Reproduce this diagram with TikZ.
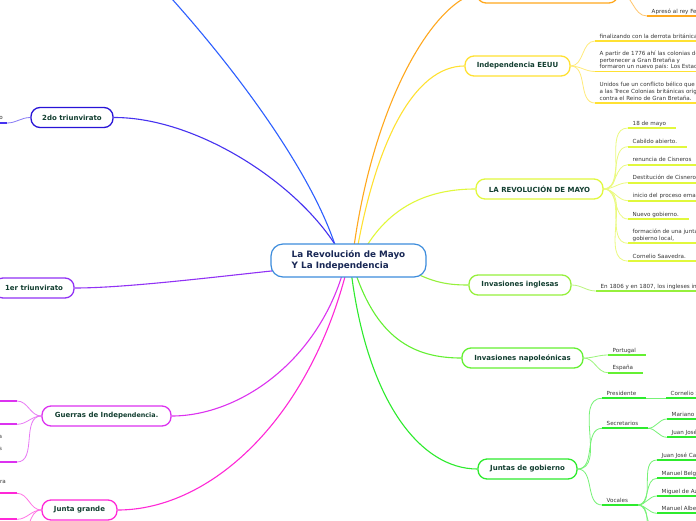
\documentclass[tikz,border=0pt]{standalone}
\usepackage{fontspec}
\setmainfont{DejaVu Sans}
\usetikzlibrary{calc}
\pgfdeclarelayer{bg}
\pgfsetlayers{bg,main}
\definecolor{cBlue}{RGB}{45,95,255}
\definecolor{cCtr}{RGB}{60,140,220}
\definecolor{cNavy}{RGB}{25,40,85}
\definecolor{cTxt}{RGB}{18,62,48}
\definecolor{cLeaf}{RGB}{55,55,55}
\definecolor{cOrange}{RGB}{255,168,30}
\definecolor{cYellow}{RGB}{255,225,50}
\definecolor{cLime}{RGB}{225,248,60}
\definecolor{cLgreen}{RGB}{150,240,60}
\definecolor{cGreenB}{RGB}{100,240,50}
\definecolor{cGreen}{RGB}{45,235,45}
\definecolor{cIndigo}{RGB}{70,50,240}
\definecolor{cIndigoD}{RGB}{40,20,215}
\definecolor{cViolet}{RGB}{145,50,245}
\definecolor{cPurMag}{RGB}{220,50,240}
\definecolor{cMag}{RGB}{255,40,215}
\newcommand{\leafat}[5][]{%
  \node[leaftext,#1] (#2) at (#4) {#5};
  \draw[ul=#3] (#2.south west) -- ([xshift=5pt]#2.south east) coordinate (#2e);}
\begin{document}
\begin{tikzpicture}[x=1pt,y=-1pt,
  ctrbox/.style={draw=cCtr, fill=white, line width=1.2pt, rounded corners=12pt,
    minimum width=155pt, minimum height=33pt, inner sep=0pt, align=left,
    font=\bfseries\fontsize{8.8}{11.5}\selectfont, text=cNavy},
  topic/.style={draw=#1, fill=white, line width=1.3pt, rounded corners=9pt,
    inner sep=0pt, minimum height=20pt, font=\bfseries\fontsize{7}{8.5}\selectfont, text=cTxt},
  leaftext/.style={anchor=south west, inner xsep=4.5pt, inner ysep=1.3pt, text depth=1.3pt,
    font=\fontsize{5.6}{6.7}\selectfont, text=cLeaf},
  frag/.style={anchor=base east, inner sep=0pt, font=\fontsize{5.6}{6.7}\selectfont, text=cLeaf},
  ul/.style={draw=#1, line width=1.8pt},
  mainlink/.style={draw=#1, line width=1.1pt},
  sub/.style={draw=#1!65, line width=0.8pt}]
\useasboundingbox (0,0) rectangle (696,520);

% central topic
\node[ctrbox] (ctr) at (348.5,260.5) {La Revolución de Mayo\\Y La Independencia};

% main topics
\node[topic=cOrange, minimum width=141pt] (orng) at (547.5,-7) {};
\node[topic=cYellow, minimum width=105pt] (ind) at (517.5,66) {Independencia EEUU};
\node[topic=cLime, minimum width=127pt] (rev) at (539.5,189) {LA REVOLUCIÓN DE MAYO};
\node[topic=cLgreen, minimum width=102pt] (ing) at (520,285) {Invasiones inglesas};
\node[topic=cGreenB, minimum width=121pt] (nap) at (522.5,358) {Invasiones napoleónicas};
\node[topic=cGreen, minimum width=99pt] (jun) at (527.5,469) {Juntas de gobierno};
\node[topic=cIndigoD, minimum width=82pt] (tr2) at (72,117.5) {2do triunvirato};
\node[topic=cViolet, minimum width=80pt] (tr1) at (34,288) {1er triunvirato};
\node[topic=cPurMag, minimum width=129pt] (gue) at (106.5,416) {Guerras de Indep{\fontsize{6.4}{8}\selectfont endencia.}};
\node[topic=cMag, minimum width=75pt] (jgr) at (79.5,510) {Junta grande};
\coordinate (blueEnd) at (150,-25);

% leaves - orange
\leafat{o1}{cOrange}{647,16}{Apresó al rey Fernando VII}
% leaves - Independencia EEUU
\leafat{e1}{cYellow}{595,41}{finalizando con la derrota británica}
\leafat[align=left]{e2}{cYellow}{595,71.5}{A partir de 1776 ahí las colonias dejaron de\\pertenecer a Gran Bretaña y\\formaron un nuevo país: Los Estados}
\leafat[align=left]{e3}{cYellow}{595,103}{Unidos fue un conflicto bélico que enfrentó\\a las Trece Colonias británicas originales\\contra el Reino de Gran Bretaña.}
% leaves - Revolucion de mayo
\leafat{r1}{cLime}{628,128}{18 de mayo}
\leafat{r2}{cLime}{628,146.7}{Cabildo abierto.}
\leafat{r3}{cLime}{628,164.7}{renuncia de Cisneros}
\leafat{r4}{cLime}{628,182.7}{Destitución de Cisneros}
\leafat{r5}{cLime}{628,200.7}{inicio del proceso emancipador}
\leafat{r6}{cLime}{628,219}{Nuevo gobierno.}
\leafat[align=left]{r7}{cLime}{628,243.3}{formación de una junta de\\ gobierno local,}
\leafat{r8}{cLime}{628,261}{Cornelio Saavedra.}
% leaves - invasiones
\leafat{i1}{cLgreen}{596,291}{En 1806 y en 1807, los ingleses invadieron el Río de la Plata}
\leafat{n1}{cGreenB}{608,355}{Portugal}
\leafat{n2}{cGreenB}{608,372.7}{España}
% leaves - juntas de gobierno
\leafat{p}{cGreen}{602,398.3}{Presidente}
\leafat{ps}{cGreen}{666,398.3}{Cornelio Saavedra}
\leafat{s}{cGreen}{602,428.3}{Secretarios}
\leafat{s1}{cGreen}{667,419}{Mariano Moreno}
\leafat{s2}{cGreen}{667,437.3}{Juan José Paso}
\leafat{v}{cGreen}{602,505}{Vocales}
\leafat{v1}{cGreen}{657,460}{Juan José Castelli}
\leafat{v2}{cGreen}{657,478.3}{Manuel Belgrano}
\leafat{v3}{cGreen}{657,496}{Miguel de Azcuénaga}
\leafat{v4}{cGreen}{657,513.3}{Manuel Alberti}
\coordinate (v5) at (657,531);
\coordinate (v6) at (657,549);

% left leaves (cut off at the edge)
\coordinate (t2a) at (7,123);
\draw[ul=cIndigo] (t2a) -- (-5,123);
\node[frag] (t2f) at (3,119.5) {o};
\coordinate (g1) at (17,401);
\coordinate (g2) at (17,424.3);
\coordinate (g3) at (17,462);
\draw[ul=cPurMag] (g1) -- (-5,401);
\draw[ul=cPurMag] (g2) -- (-5,424.3);
\draw[ul=cPurMag] (g3) -- (-5,462);
\node[frag] (gfa) at (2.2,438) {a};
\node[frag] (gfs) at (2.2,450.5) {s};
\coordinate (j1) at (17,493.3);
\coordinate (j2) at (17,519.3);
\coordinate (j3) at (17,537);
\draw[ul=cMag] (j1) -- (-5,493.3);
\draw[ul=cMag] (j2) -- (-5,519.3);
\node[frag] (jfr) at (6,483.5) {ra};

\begin{pgfonlayer}{bg}
\fill[white] (0,0) rectangle (696,520);
% main connectors
\draw[mainlink=cBlue] ($(ctr.center)+(-8.5,1.5)$) .. controls (320,180) and (230,60) .. (blueEnd);
\draw[mainlink=cOrange] ($(ctr.center)+(3.5,1.5)$) .. controls (370,110) and (430,5) .. (orng.west);
\draw[mainlink=cYellow] ($(ctr.center)+(6.5,1.5)$) .. controls (375,140) and (415,66) .. (ind.west);
\draw[mainlink=cLime] ($(ctr.center)+(9.5,1.5)$) .. controls (385,205) and (430,189) .. (rev.west);
\draw[mainlink=cLgreen] ($(ctr.center)+(51.5,4.5)$) .. controls (430,282) and (445,285) .. (ing.west);
\draw[mainlink=cGreenB] ($(ctr.center)+(3.5,1.5)$) .. controls (375,340) and (415,358) .. (nap.west);
\draw[mainlink=cGreen] ($(ctr.center)+(1.5,1.5)$) .. controls (365,400) and (420,469) .. (jun.west);
\draw[mainlink=cIndigo] ($(ctr.center)+(-3.5,1.5)$) .. controls (310,190) and (200,117) .. (tr2.east);
\draw[mainlink=cViolet] ($(ctr.center)+(-48.5,7.5)$) .. controls (230,275) and (130,288) .. (tr1.east);
\draw[mainlink=cPurMag] ($(ctr.center)+(-3.5,4.5)$) .. controls (320,360) and (240,416) .. (gue.east);
\draw[mainlink=cMag] ($(ctr.center)+(-0.5,4.5)$) .. controls (310,420) and (210,510) .. (jgr.east);
% sub connectors
\draw[sub=cOrange] (orng.east) to[out=0,in=180] (o1.south west);
\foreach \l in {e1,e2,e3} \draw[sub=cYellow] (ind.east) to[out=0,in=180] (\l.south west);
\foreach \l in {r1,r2,r3,r4,r5,r6,r7,r8} \draw[sub=cLime] (rev.east) to[out=0,in=180] (\l.south west);
\draw[sub=cLgreen] (ing.east) to[out=0,in=180] (i1.south west);
\foreach \l in {n1,n2} \draw[sub=cGreenB] (nap.east) to[out=0,in=180] (\l.south west);
\foreach \l in {p,s,v} \draw[sub=cGreen] (jun.east) to[out=0,in=180] (\l.south west);
\draw[sub=cGreen] (pe) to[out=0,in=180] (ps.south west);
\foreach \l in {s1,s2} \draw[sub=cGreen] (se) to[out=0,in=180] (\l.south west);
\foreach \l in {v1,v2,v3,v4} \draw[sub=cGreen] (ve) to[out=0,in=180] (\l.south west);
\foreach \l in {v5,v6} \draw[sub=cGreen] (ve) to[out=0,in=180] (\l);
\draw[sub=cIndigo] (tr2.west) to[out=180,in=0] (t2a);
\foreach \l in {g1,g2,g3} \draw[sub=cPurMag] (gue.west) to[out=180,in=0] (\l);
\foreach \l in {j1,j2,j3} \draw[sub=cMag] (jgr.west) to[out=180,in=0] (\l);
\end{pgfonlayer}
\end{tikzpicture}
\end{document}
